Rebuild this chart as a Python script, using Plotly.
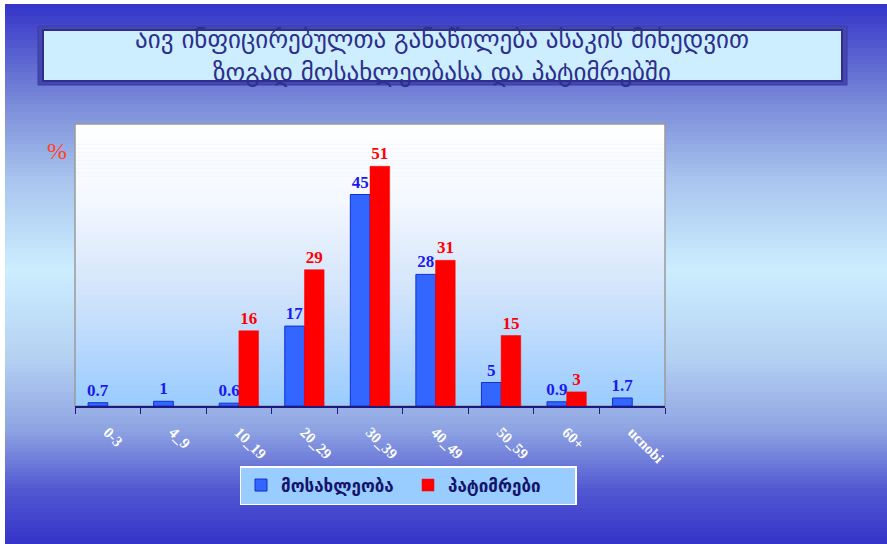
import plotly.graph_objects as go

categories = ["0-3", "4_9", "10_19", "20_29", "30_39", "40_49", "50_59", "60+", "ucnobi"]
population = [0.7, 1, 0.6, 17, 45, 28, 5, 0.9, 1.7]
prisoners = [None, None, 16, 29, 51, 31, 15, 3, None]
series_names = ["მოსახლეობა", "პატიმრები"]
title_lines = ["აივ ინფიცირებულთა განაწილება ასაკის მიხედვით",
               "ზოგად მოსახლეობასა და პატიმრებში"]

W, H = 887, 544
PL, PR, PT, PB = 75, 665, 124, 406  # plot area pixels


def px2x(x):
    return (x - PL) / (PR - PL)


def px2y(y):
    return (PB - y) / (PB - PT)


def hex2rgb(h):
    h = h.lstrip('#')
    return tuple(int(h[i:i + 2], 16) for i in (0, 2, 4))


def interp(stops, y):
    for (y0, c0), (y1, c1) in zip(stops[:-1], stops[1:]):
        if y0 <= y <= y1:
            t = (y - y0) / (y1 - y0) if y1 > y0 else 0
            a, b = hex2rgb(c0), hex2rgb(c1)
            return 'rgb(%d,%d,%d)' % tuple(round(a[i] + (b[i] - a[i]) * t) for i in range(3))
    return stops[-1][1]


shapes = []
# outer gradient background
outer_stops = [(4, '#3434c8'), (100, '#7888d8'), (180, '#a8c4ee'), (270, '#cceeff'),
               (360, '#b4d0f2'), (430, '#8ea4e2'), (490, '#5258d2'), (544, '#3434c8')]
N = 135
y0p, y1p = 4, 544
for i in range(N):
    ya = y0p + (y1p - y0p) * i / N
    yb = y0p + (y1p - y0p) * (i + 1) / N + 0.6
    shapes.append(dict(type='rect', xref='paper', yref='paper', layer='below',
                       x0=px2x(5), x1=px2x(W), y0=px2y(ya), y1=px2y(yb),
                       fillcolor=interp(outer_stops, (ya + yb) / 2), line=dict(width=0)))
# plot area gradient
plot_stops = [(PT, '#ffffff'), (200, '#f4f8ff'), (300, '#cfe2fb'), (PB, '#99ccff')]
M = 70
for i in range(M):
    ya = PT + (PB - PT) * i / M
    yb = PT + (PB - PT) * (i + 1) / M + 0.5
    shapes.append(dict(type='rect', xref='paper', yref='paper', layer='below',
                       x0=0, x1=1, y0=px2y(ya), y1=px2y(min(yb, PB)),
                       fillcolor=interp(plot_stops, (ya + yb) / 2), line=dict(width=0)))
# plot border (grey)
shapes.append(dict(type='rect', xref='paper', yref='paper', layer='below',
                   x0=0, x1=1, y0=0, y1=1, line=dict(color='#9a9a9a', width=1.5)))
# title box
shapes.append(dict(type='rect', xref='paper', yref='paper', layer='above',
                   x0=px2x(38), x1=px2x(847), y0=px2y(85), y1=px2y(26),
                   fillcolor='#4646b0', line=dict(color='#3a3aa6', width=1)))
shapes.append(dict(type='rect', xref='paper', yref='paper', layer='above',
                   x0=px2x(43), x1=px2x(842), y0=px2y(81), y1=px2y(30),
                   fillcolor='#cceeff', line=dict(color='#2e2e90', width=2)))

fig = go.Figure()
fig.add_trace(go.Bar(x=categories, y=population, name=series_names[0],
                     marker=dict(color='#3366ff', line=dict(color='#1030d0', width=1)),
                     text=[f"{v:g}" for v in population], textposition='outside',
                     constraintext='none', cliponaxis=False,
                     textfont=dict(family='Liberation Serif', size=17, color='#1a1aee', weight='bold')))
fig.add_trace(go.Bar(x=categories, y=prisoners, name=series_names[1],
                     marker=dict(color='#ff0000', line=dict(color='#ff0000', width=0.5)),
                     text=[("" if v is None else f"{v:g}") for v in prisoners], textposition='outside',
                     constraintext='none', cliponaxis=False,
                     textfont=dict(family='Liberation Serif', size=17, color='#ff0000', weight='bold')))

annotations = [
    dict(text="<br>".join(title_lines), xref='paper', yref='paper', x=px2x(442), y=px2y(56),
         xanchor='center', yanchor='middle', showarrow=False,
         font=dict(family='DejaVu Sans', size=25, color='#2e2e8c')),
    dict(text="%", xref='paper', yref='paper', x=px2x(57), y=px2y(151),
         xanchor='center', yanchor='middle', showarrow=False,
         font=dict(family='Liberation Serif', size=24, color='#ff4422')),
]

fig.update_layout(
    width=W, height=H,
    margin=dict(l=PL, r=W - PR, t=PT, b=H - PB, pad=0),
    paper_bgcolor='white', plot_bgcolor='rgba(0,0,0,0)',
    barmode='group', bargap=0.4, bargroupgap=0,
    shapes=shapes, annotations=annotations,
    showlegend=True,
    legend=dict(orientation='h', x=px2x(408), y=px2y(466), xanchor='center', yanchor='top',
                bgcolor='#99ccff', bordercolor='white', borderwidth=1.5,
                entrywidth=122, entrywidthmode='pixels',
                font=dict(family='DejaVu Sans', size=17, color='#14146a', weight='bold')),
    xaxis=dict(showline=True, linecolor='#1a1a80', linewidth=1.5, ticks='outside',
               tickson='boundaries', ticklen=6, tickcolor='#1a1a80', tickangle=45,
               ticklabelstandoff=10,
               tickfont=dict(family='Liberation Serif', size=15, color='white', weight='bold'),
               showgrid=False, zeroline=False),
    yaxis=dict(range=[0, 60], showline=False, showticklabels=False, ticks='',
               showgrid=False, zeroline=False),
)

fig.write_html("out.html")
